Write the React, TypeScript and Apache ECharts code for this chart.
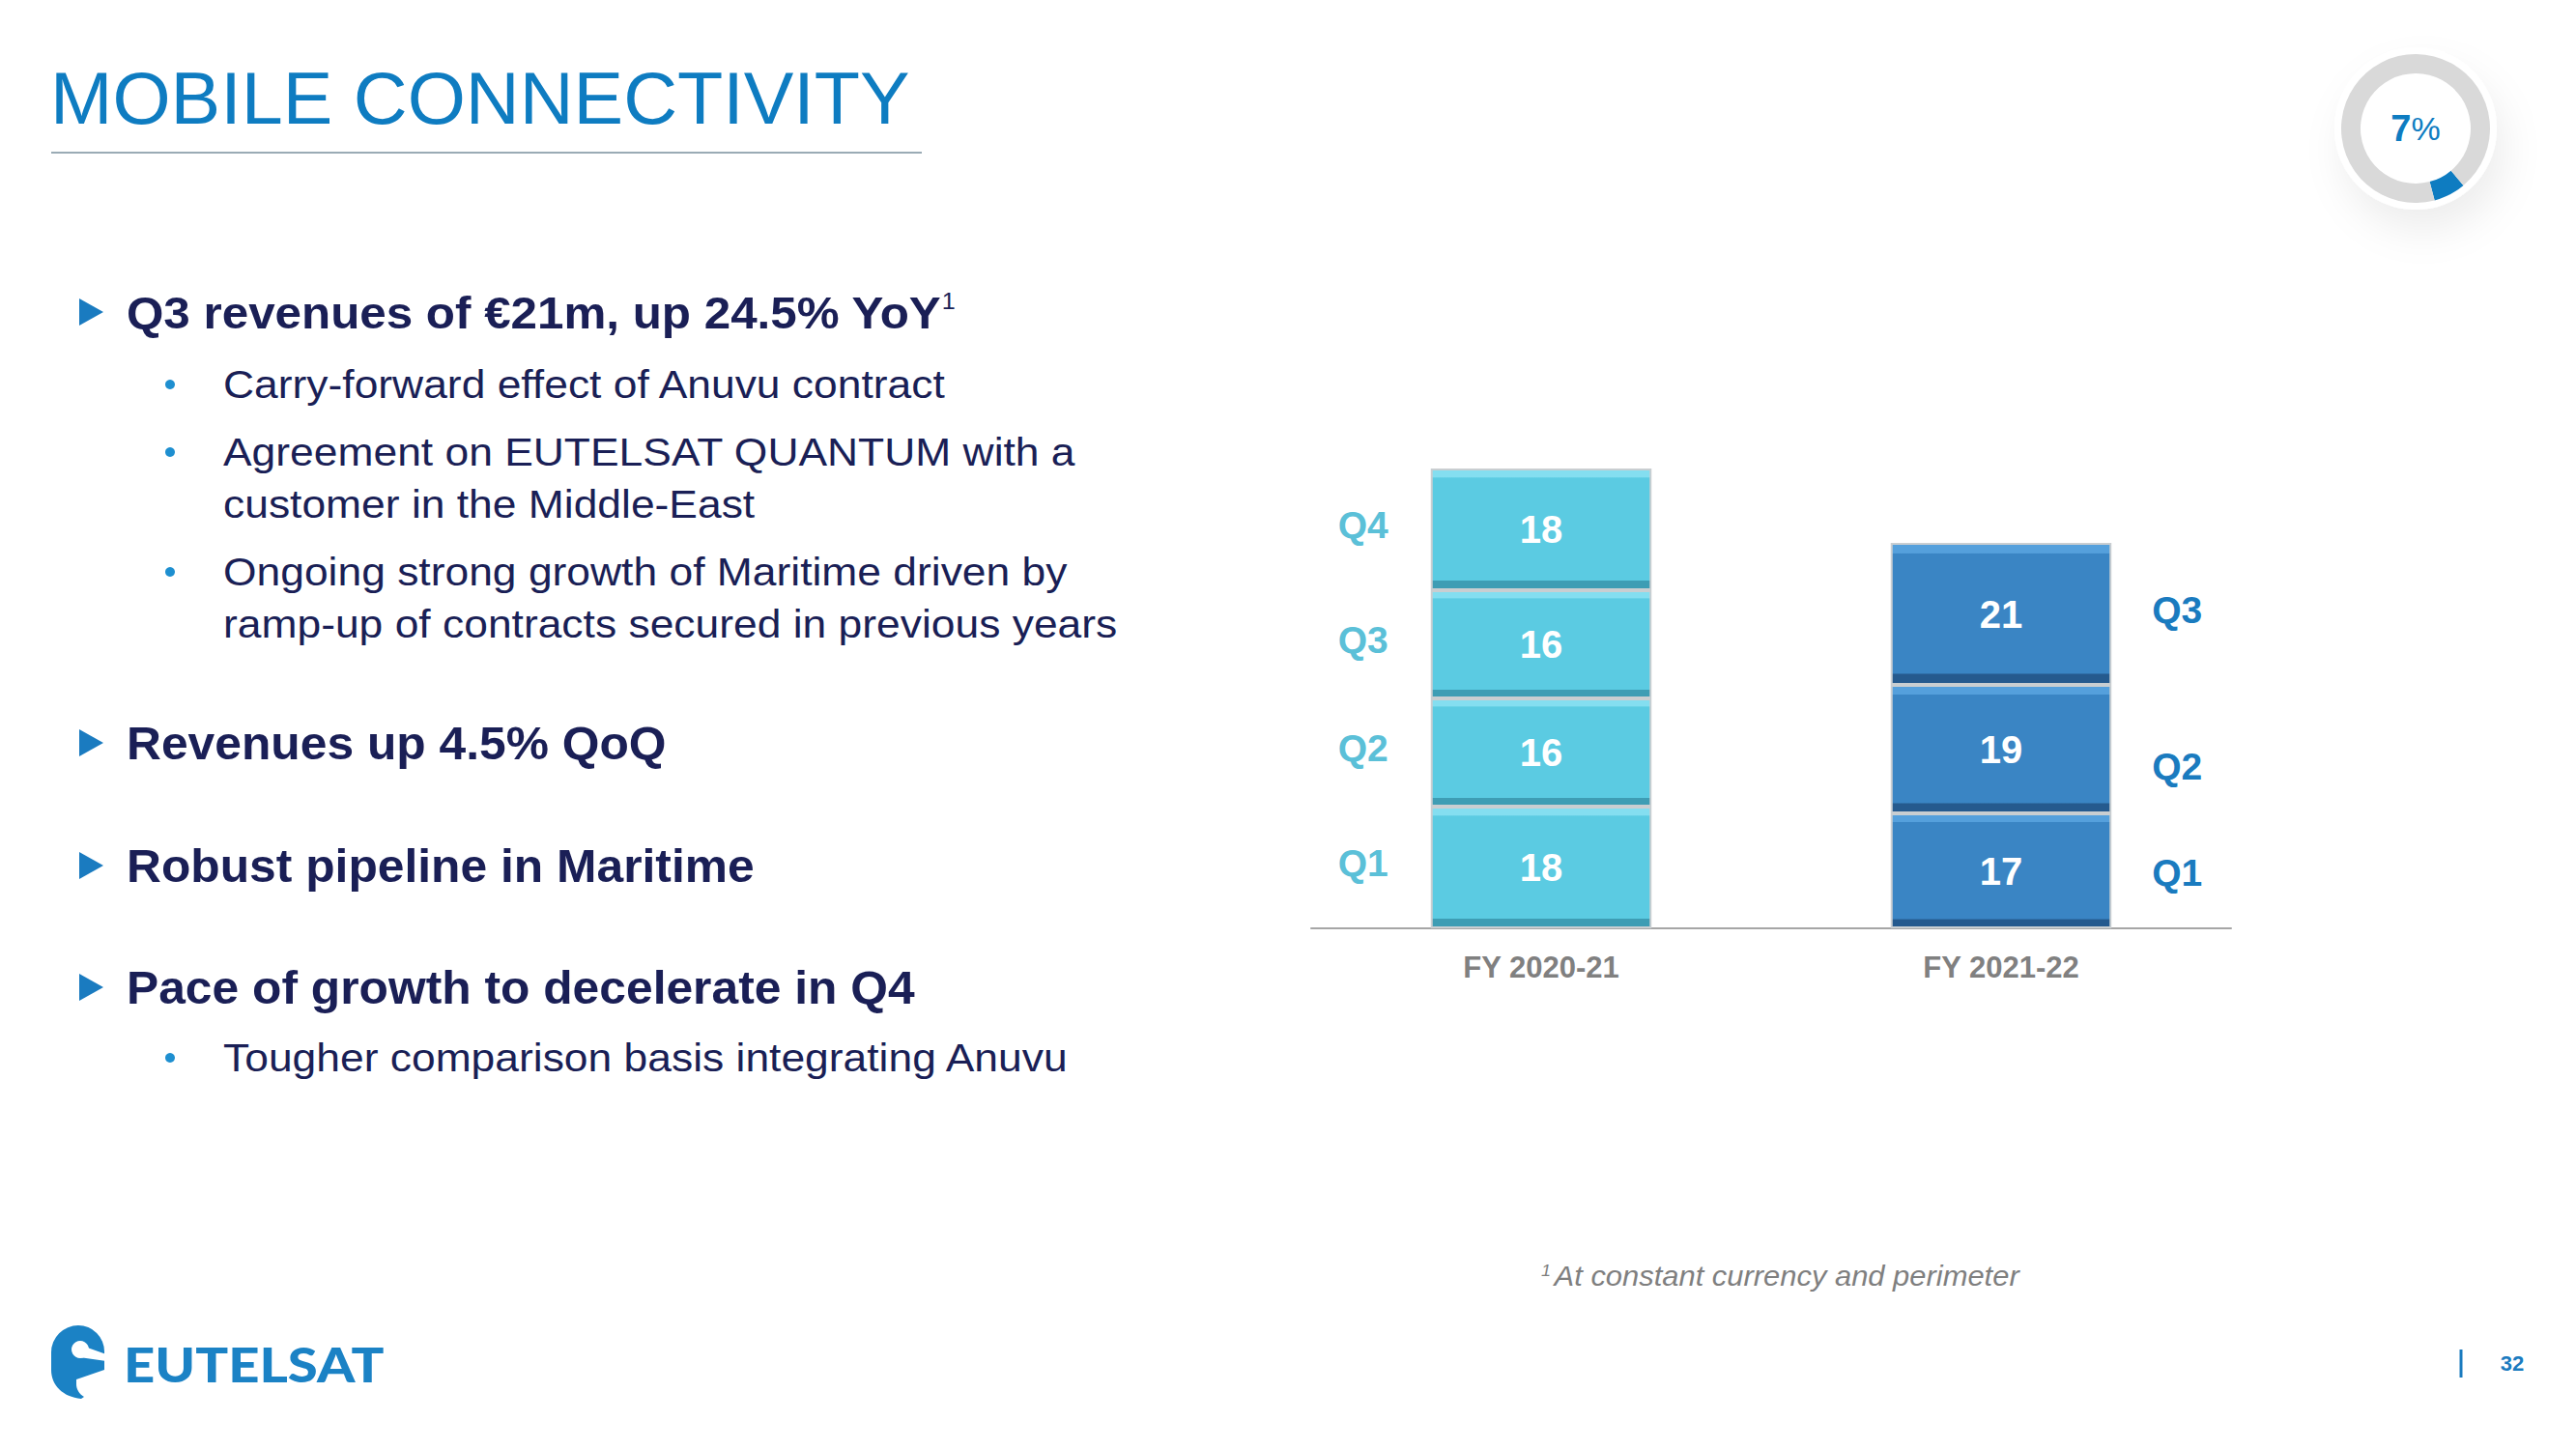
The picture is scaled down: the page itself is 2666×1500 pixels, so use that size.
import React, { useEffect, useRef } from "react";
import * as echarts from "echarts";

// ---------- data ----------
const categories = ["FY 2020-21", "FY 2021-22"];
const quarterNames = ["Q1", "Q2", "Q3", "Q4"];
const q1Values = [18, 17];
const q2Values = [16, 19];
const q3Values = [16, 21];
const q4Values: (number | null)[] = [18, null];
const donutShare = 7; // percent
const titleText = "MOBILE CONNECTIVITY";
const headingTexts = [
  "Q3 revenues of €21m, up 24.5% YoY",
  "Revenues up 4.5% QoQ",
  "Robust pipeline in Maritime",
  "Pace of growth to decelerate in Q4",
];
const subTexts = [
  "Carry-forward effect of Anuvu contract",
  "Agreement on EUTELSAT QUANTUM with a",
  "customer in the Middle-East",
  "Ongoing strong growth of Maritime driven by",
  "ramp-up of contracts secured in previous years",
  "Tougher comparison basis integrating Anuvu",
];
const footnoteText = "At constant currency and perimeter";
const logoText = "EUTELSAT";
const pageNumber = "32";

// ---------- styles ----------
const FONT = '"Liberation Sans", Arial, Helvetica, sans-serif';
const NAVY = "#1A1F56";
const BLUE = "#0E7CC1";
const CYAN_LABEL = "#5BC0D8";
const DARK_LABEL = "#1A7BBF";
const LOGO_BLUE = "#1B82C5";

const mkGrad = (top: string, main: string, bottom: string) =>
  new echarts.graphic.LinearGradient(0, 0, 0, 1, [
    { offset: 0, color: top },
    { offset: 0.065, color: top },
    { offset: 0.07, color: main },
    { offset: 0.925, color: main },
    { offset: 0.93, color: bottom },
    { offset: 1, color: bottom },
  ]);

const barFills = [
  () => mkGrad("#84DEF0", "#5BCBE2", "#3E9DB4"),
  () => mkGrad("#55A0DC", "#3A85C4", "#255A8E"),
];

const allQuarters = [q1Values, q2Values, q3Values, q4Values];

export default function App() {
  const ref = useRef<HTMLDivElement>(null);

  useEffect(() => {
    document.body.style.margin = "0";
    if (!ref.current) return;
    const chart = echarts.init(ref.current, undefined, { renderer: "svg" });

    const series = allQuarters.map((vals, k) => ({
      type: "bar",
      name: quarterNames[k],
      stack: "fy",
      barWidth: "48%",
      silent: true,
      itemStyle: { borderColor: "#C9CED1", borderWidth: 2 },
      label: {
        show: true,
        position: "inside",
        color: "#FFFFFF",
        fontSize: 40,
        fontWeight: "bold",
        fontFamily: FONT,
      },
      data: vals.map((v, i) =>
        v == null ? null : { value: v, itemStyle: { color: barFills[i]() } }
      ),
    }));

    chart.setOption({
      animation: false,
      backgroundColor: "#FFFFFF",
      grid: { left: 1357, right: 357, top: 471, bottom: 539 },
      xAxis: {
        type: "category",
        data: categories,
        axisLine: { lineStyle: { color: "#A6A6A6", width: 2 } },
        axisTick: { show: false },
        axisLabel: {
          color: "#808080",
          fontSize: 31,
          fontWeight: "bold",
          fontFamily: FONT,
          margin: 25,
        },
      },
      yAxis: {
        type: "value",
        min: 0,
        max: 70,
        show: false,
        splitLine: { show: false },
      },
      series: [
        ...series,
        {
          type: "pie",
          silent: true,
          center: [2500, 133],
          radius: [57, 77],
          startAngle: -50,
          clockwise: true,
          label: { show: false },
          labelLine: { show: false },
          z: 5,
          data: [
            { value: donutShare, itemStyle: { color: BLUE } },
            { value: 100 - donutShare, itemStyle: { color: "#D9D9D9" } },
          ],
        },
      ],
    });

    // quarter labels positioned through the chart's own scales
    const c0 = chart.convertToPixel({ gridIndex: 0 }, [0, 0]) as number[];
    const c1 = chart.convertToPixel({ gridIndex: 0 }, [1, 0]) as number[];
    const band = c1[0] - c0[0];
    const half = band * 0.24;
    const quarterLabels: any[] = [];
    [0, 1].forEach((ci) => {
      let cum = 0;
      allQuarters.forEach((vals, k) => {
        const v = vals[ci];
        if (v == null) return;
        const mid = cum + v / 2;
        cum += v;
        const p = chart.convertToPixel({ gridIndex: 0 }, [ci, mid]) as number[];
        const left = ci === 0;
        const dy = left ? -5 : k === 1 ? 18 : k === 2 ? -4 : 2;
        quarterLabels.push({
          type: "text",
          x: left ? p[0] - half - 44 : p[0] + half + 42,
          y: p[1] + dy,
          silent: true,
          style: {
            text: quarterNames[k],
            fill: left ? CYAN_LABEL : DARK_LABEL,
            font: `bold 39px ${FONT}`,
            align: left ? "right" : "left",
            verticalAlign: "middle",
            textAlign: left ? "right" : "left",
            textVerticalAlign: "middle",
          },
        });
      });
    });

    const txt = (
      x: number,
      y: number,
      text: string,
      font: string,
      fill: string,
      align = "left",
      scaleX = 1
    ) => ({
      type: "text",
      x,
      y,
      scaleX,
      silent: true,
      style: {
        text,
        font,
        fill,
        align,
        textAlign: align,
        verticalAlign: "middle",
        textVerticalAlign: "middle",
      },
    });

    const triangle = (cy: number) => ({
      type: "polygon",
      silent: true,
      shape: { points: [[82, cy - 14], [107, cy], [82, cy + 14]] },
      style: { fill: "#1A7BC0" },
    });
    const dot = (cy: number) => ({
      type: "circle",
      silent: true,
      shape: { cx: 176, cy, r: 5 },
      style: { fill: "#1E8FD0" },
    });

    const headingYs = [323, 769, 896, 1022];
    const subYs = [398, 468, 522, 592, 646, 1095];
    const dotYs = [398, 468, 592, 1095];

    const markPath =
      "M28 0 A27 27 0 0 1 55 27 L55 46 L26 56 L26 61 C26 66 29 71 34 74 L31 76 C12 74 0 62 0 46 L0 28 A28 28 0 0 1 28 0 Z";
    try {
      echarts.graphic.registerShape(
        "eutelsatMark",
        (echarts.graphic as any).extendPath(markPath, {})
      );
    } catch (e) {
      /* already registered */
    }

    const graphics: any[] = [
      // donut halo
      {
        type: "circle",
        silent: true,
        z: -1,
        shape: { cx: 2500, cy: 133, r: 84 },
        style: {
          fill: "#FFFFFF",
          shadowBlur: 40,
          shadowColor: "rgba(0,0,0,0.07)",
          shadowOffsetX: 8,
          shadowOffsetY: 22,
        },
      },
      {
        type: "text",
        x: 2500,
        y: 133,
        silent: true,
        z: 10,
        style: {
          text: `{a|${donutShare}}{b|%}`,
          align: "center",
          verticalAlign: "middle",
          textAlign: "center",
          textVerticalAlign: "middle",
          rich: {
            a: { fontSize: 38, fontWeight: "bold", fontFamily: FONT, fill: BLUE, color: BLUE },
            b: { fontSize: 34, fontFamily: FONT, fill: BLUE, color: BLUE },
          },
        },
      },
      // title + rule
      txt(52, 102, titleText, `76px ${FONT}`, BLUE, "left", 1.018),
      {
        type: "line",
        silent: true,
        shape: { x1: 53, y1: 158, x2: 954, y2: 158 },
        style: { stroke: "#9AABB5", lineWidth: 2 },
      },
      // bullets
      ...headingYs.map(triangle),
      ...dotYs.map(dot),
      {
        type: "text",
        x: 131,
        y: headingYs[0],
        scaleX: 1.05,
        silent: true,
        style: {
          text: `{b|${headingTexts[0]}}{s|1}`,
          align: "left",
          verticalAlign: "middle",
          textAlign: "left",
          textVerticalAlign: "middle",
          rich: {
            b: { fontSize: 47, fontWeight: "bold", fontFamily: FONT, fill: NAVY, color: NAVY },
            s: { fontSize: 24, fontFamily: FONT, fill: NAVY, color: NAVY, verticalAlign: "top" },
          },
        },
      },
      ...headingTexts
        .slice(1)
        .map((t, i) => txt(131, headingYs[i + 1], t, `bold 48px ${FONT}`, NAVY, "left", 1.037)),
      ...subTexts.map((t, i) => txt(231, subYs[i], t, `40px ${FONT}`, NAVY, "left", 1.11)),
      // footnote
      {
        type: "text",
        x: 1595,
        y: 1321,
        scaleX: 1.066,
        silent: true,
        style: {
          text: `{s|1} {t|${footnoteText}}`,
          align: "left",
          verticalAlign: "middle",
          textAlign: "left",
          textVerticalAlign: "middle",
          rich: {
            s: { fontSize: 17, fontStyle: "italic", fontFamily: FONT, fill: "#7F7F7F", color: "#7F7F7F", verticalAlign: "top" },
            t: { fontSize: 29, fontStyle: "italic", fontFamily: FONT, fill: "#7F7F7F", color: "#7F7F7F" },
          },
        },
      },
      // logo mark
      {
        type: "eutelsatMark",
        x: 53,
        y: 1372,
        silent: true,
        style: { fill: LOGO_BLUE },
      },
      {
        type: "circle",
        silent: true,
        shape: { cx: 83, cy: 1397, r: 9 },
        style: { fill: "#FFFFFF" },
      },
      {
        type: "polygon",
        silent: true,
        shape: { points: [[82, 1392], [110, 1402], [110, 1409], [82, 1405]] },
        style: { fill: "#FFFFFF" },
      },
      txt(128, 1411, logoText, `900 50px Lato, ${FONT}`, LOGO_BLUE, "left", 1.125),
      // page number
      {
        type: "line",
        silent: true,
        shape: { x1: 2547, y1: 1397, x2: 2547, y2: 1426 },
        style: { stroke: "#1A7BBF", lineWidth: 3 },
      },
      txt(2600, 1411, pageNumber, `bold 22px ${FONT}`, "#1A7BBF", "center"),
      ...quarterLabels,
    ];

    chart.setOption({ graphic: { elements: graphics } });

    return () => chart.dispose();
  }, []);

  return <div ref={ref} style={{ width: 2666, height: 1500 }} />;
}
